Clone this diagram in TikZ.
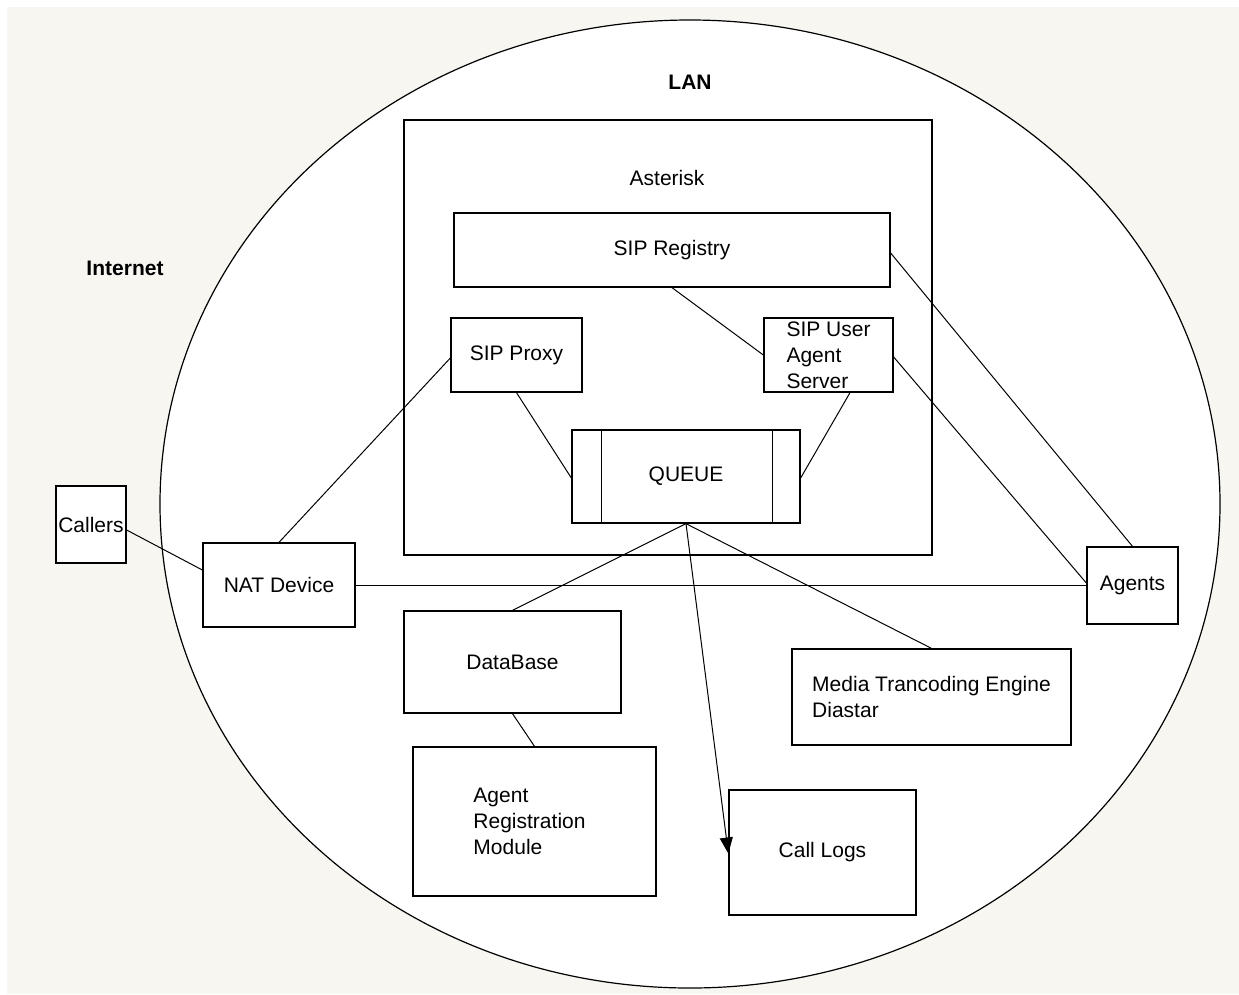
\documentclass[tikz,border=0pt]{standalone}
\usepackage{fontspec}
\setmainfont{Liberation Sans}
\usetikzlibrary{arrows.meta}
\definecolor{bgbeige}{HTML}{F8F6F0}
\begin{document}
\begin{tikzpicture}[x=1pt,y=-1pt,
  box/.style={draw, line width=1.3pt, fill=white, font=\fontsize{21}{26}\selectfont, inner sep=0pt, align=left},
  lbl/.style={font=\fontsize{21}{26}\selectfont, inner sep=0pt},
  conn/.style={line width=1pt},
]
\useasboundingbox (0,0) rectangle (1239,994);
\fill[bgbeige] (7,7) rectangle (1239,994);
\draw[line width=1.2pt, fill=white] (690,504) ellipse [x radius=530pt, y radius=484pt];

\node[lbl, font=\fontsize{21}{26}\selectfont\bfseries] (lan) at (690,82) {LAN};
\node[lbl, font=\fontsize{21}{26}\selectfont\bfseries] (internet) at (125,268) {Internet};

\node[box, minimum width=528pt, minimum height=435pt] (asterisk) at (668,337.5) {};
\node[lbl] (asterisklbl) at (667,178) {Asterisk};

\node[box, minimum width=436pt, minimum height=74pt] (sipreg) at (672,250) {SIP Registry};
\node[box, minimum width=131pt, minimum height=74pt] (proxy) at (516.5,355) {SIP Proxy};
\node[box, minimum width=129pt, minimum height=74pt] (uas) at (828.5,355) {SIP User\\Agent\\Server};
\node[box, minimum width=228pt, minimum height=93pt] (queue) at (686,476.5) {QUEUE};
\draw[line width=1.3pt] ([xshift=30pt]queue.north west) -- ([xshift=30pt]queue.south west);
\draw[line width=1.3pt] ([xshift=-28pt]queue.north east) -- ([xshift=-28pt]queue.south east);

\node[box, minimum width=70pt, minimum height=77pt] (callers) at (91,524.5) {Callers};
\node[box, minimum width=152pt, minimum height=84pt] (nat) at (279,585) {NAT Device};
\node[box, minimum width=91pt, minimum height=77pt] (agents) at (1132.5,585.5) {Agents};
\node[box, minimum width=217pt, minimum height=102pt] (db) at (512.5,662) {DataBase};
\node[box, minimum width=279pt, minimum height=96pt] (media) at (931.5,697) {Media Trancoding Engine\\Diastar};
\node[box, minimum width=243pt, minimum height=149pt] (agentreg) at (534.5,821.5) {};
\node[lbl, align=left] (agentreglbl) at (529.5,821.5) {Agent\\Registration\\Module};
\node[box, minimum width=187pt, minimum height=125pt] (calllogs) at (822.5,852.5) {Call Logs};

\draw[conn] ([yshift=-5.5pt]callers.east) -- ([yshift=15pt]nat.west);
\draw[conn] (nat.north) -- ([yshift=-3pt]proxy.west);
\draw[conn] (nat.east) -- (nat.east -| agents.west);
\draw[conn] (sipreg.south) -- (uas.west);
\draw[conn] ([yshift=-3pt]sipreg.east) -- (agents.north);
\draw[conn] ([yshift=-2pt]uas.east) -- ([yshift=2.5pt]agents.west);
\draw[conn] (proxy.south) -- ([yshift=-1.5pt]queue.west);
\draw[conn] ([xshift=21.5pt]uas.south) -- ([yshift=-1.5pt]queue.east);
\draw[conn] (queue.south) -- (db.north);
\draw[conn] (queue.south) -- (media.north);
\draw[conn, -{Triangle[length=16pt,width=13pt]}] (queue.south) -- ([yshift=-1pt]calllogs.west);
\draw[conn] (db.south) -- (agentreg.north);
\end{tikzpicture}
\end{document}
